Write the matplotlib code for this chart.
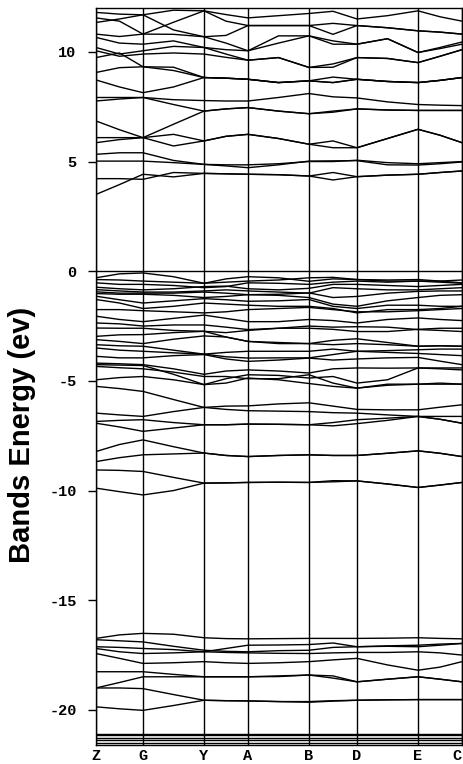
import numpy as np
import matplotlib
matplotlib.use("Agg")
from matplotlib import pyplot as plt

# k-path
kpoint_labels = ["Z", "G", "Y", "A", "B", "D", "E", "C"]
segment_lengths = [0.47, 0.61, 0.44, 0.61, 0.48, 0.61, 0.44]

# band energies (eV), read at every k-point and at the middle of each segment
conduction = [
    [11.80, 11.72, 11.69, 11.90, 11.87, 11.70, 11.55, 11.65, 11.75, 11.85, 11.50, 11.65, 11.87, 11.60, 11.40],
    [11.55, 11.40, 10.81, 11.35, 11.87, 11.40, 11.20, 11.20, 11.20, 11.30, 11.20, 11.10, 10.96, 10.90, 10.81],
    [11.34, 11.50, 11.69, 11.00, 10.69, 10.75, 11.20, 11.20, 11.20, 10.80, 11.20, 11.10, 10.96, 10.90, 10.81],
    [10.81, 10.70, 10.81, 10.80, 10.69, 10.40, 10.05, 10.73, 10.73, 10.50, 10.35, 10.60, 9.97, 10.15, 10.35],
    [10.66, 10.40, 10.35, 10.50, 10.20, 10.10, 10.05, 10.40, 10.73, 10.35, 10.35, 10.60, 9.97, 10.20, 10.45],
    [10.20, 9.90, 10.05, 10.25, 10.20, 9.90, 9.62, 9.74, 9.29, 9.45, 9.74, 9.70, 9.51, 9.80, 10.10],
    [10.05, 9.80, 9.90, 9.95, 9.90, 9.75, 9.62, 9.74, 9.29, 9.30, 9.74, 9.70, 9.51, 9.80, 10.10],
    [9.74, 9.95, 9.32, 9.30, 8.83, 8.80, 8.75, 8.60, 8.68, 8.85, 8.75, 8.65, 8.60, 8.70, 8.83],
    [9.06, 9.28, 9.32, 9.15, 8.83, 8.80, 8.75, 8.60, 8.68, 8.60, 8.75, 8.65, 8.60, 8.70, 8.83],
    [8.72, 8.40, 8.14, 8.40, 8.83, 8.80, 8.75, 8.60, 8.68, 8.60, 8.75, 8.65, 8.60, 8.70, 8.83],
    [7.92, 7.92, 7.92, 7.82, 7.78, 7.76, 7.76, 7.92, 8.10, 7.95, 7.90, 7.72, 7.60, 7.57, 7.55],
    [7.76, 7.85, 7.92, 7.60, 7.30, 7.40, 7.46, 7.30, 7.18, 7.30, 7.40, 7.35, 7.33, 7.33, 7.33],
    [6.85, 6.45, 6.09, 6.70, 7.30, 7.40, 7.46, 7.30, 7.18, 7.25, 7.40, 7.35, 7.33, 7.33, 7.33],
    [6.09, 6.09, 6.09, 6.24, 5.94, 6.15, 6.24, 6.05, 5.79, 5.94, 5.63, 6.05, 6.47, 6.20, 5.86],
    [5.86, 6.00, 6.09, 5.71, 5.94, 6.15, 6.24, 6.05, 5.79, 5.63, 5.63, 6.05, 6.47, 6.20, 5.86],
    [5.33, 5.40, 5.40, 5.05, 4.87, 4.85, 4.85, 4.90, 5.00, 5.00, 5.06, 4.95, 4.90, 4.95, 5.00],
    [5.02, 5.02, 5.02, 4.95, 4.87, 4.80, 4.72, 4.85, 5.02, 5.03, 5.04, 4.85, 4.84, 4.90, 4.98],
    [4.22, 4.22, 4.19, 4.50, 4.46, 4.44, 4.42, 4.40, 4.34, 4.50, 4.31, 4.38, 4.42, 4.50, 4.57],
    [3.50, 3.95, 4.42, 4.30, 4.46, 4.44, 4.42, 4.40, 4.34, 4.16, 4.31, 4.38, 4.42, 4.50, 4.57],
]

valence = [
    [-0.30, -0.12, -0.08, -0.25, -0.55, -0.35, -0.25, -0.30, -0.46, -0.35, -0.38, -0.40, -0.38, -0.45, -0.53],
    [-0.38, -0.40, -0.45, -0.50, -0.55, -0.50, -0.45, -0.40, -0.30, -0.28, -0.38, -0.45, -0.45, -0.50, -0.55],
    [-0.53, -0.60, -0.60, -0.65, -0.75, -0.70, -0.53, -0.55, -0.60, -0.50, -0.45, -0.50, -0.45, -0.45, -0.40],
    [-0.73, -0.80, -0.85, -0.80, -0.70, -0.68, -0.80, -0.85, -0.78, -0.60, -0.60, -0.65, -0.70, -0.65, -0.60],
    [-0.84, -0.90, -0.95, -0.95, -0.90, -0.85, -0.90, -0.95, -1.00, -0.75, -0.80, -0.85, -0.85, -0.80, -0.75],
    [-0.94, -1.00, -1.00, -1.00, -0.95, -1.00, -1.07, -1.05, -0.99, -1.20, -1.15, -1.00, -0.92, -0.90, -0.90],
    [-1.02, -1.05, -1.05, -1.10, -1.20, -1.15, -1.07, -1.10, -1.20, -1.50, -1.60, -1.35, -1.20, -1.10, -1.07],
    [-1.14, -1.30, -1.45, -1.35, -1.25, -1.30, -1.37, -1.35, -1.29, -1.60, -1.70, -1.55, -1.55, -1.60, -1.60],
    [-1.29, -1.45, -1.70, -1.60, -1.45, -1.50, -1.55, -1.60, -1.60, -1.70, -1.90, -1.75, -1.75, -1.70, -1.60],
    [-1.75, -1.75, -1.80, -1.85, -1.90, -1.85, -1.75, -1.70, -1.65, -1.75, -1.85, -1.85, -1.80, -1.75, -1.70],
    [-2.05, -2.20, -2.30, -2.15, -2.00, -2.15, -2.30, -2.30, -2.20, -2.25, -2.36, -2.20, -2.13, -2.20, -2.25],
    [-2.36, -2.40, -2.50, -2.45, -2.45, -2.55, -2.66, -2.60, -2.50, -2.55, -2.53, -2.55, -2.66, -2.70, -2.75],
    [-2.59, -2.60, -2.60, -2.70, -2.74, -2.80, -2.70, -2.60, -2.60, -2.65, -2.75, -2.75, -2.65, -2.60, -2.60],
    [-2.97, -2.90, -2.89, -2.80, -2.74, -3.00, -3.20, -3.25, -3.30, -3.15, -3.08, -3.25, -3.42, -3.40, -3.42],
    [-3.12, -3.20, -3.30, -3.10, -2.95, -3.00, -3.20, -3.30, -3.30, -3.35, -3.30, -3.35, -3.42, -3.40, -3.42],
    [-3.35, -3.40, -3.42, -3.60, -3.78, -3.70, -3.65, -3.65, -3.65, -3.55, -3.65, -3.62, -3.58, -3.55, -3.55],
    [-3.50, -3.60, -3.65, -3.72, -3.78, -3.90, -3.96, -3.95, -3.95, -3.80, -3.65, -3.70, -3.75, -3.80, -3.85],
    [-3.88, -3.95, -3.95, -3.85, -3.80, -4.00, -4.11, -4.05, -3.96, -4.05, -4.00, -3.95, -3.93, -4.10, -4.26],
    [-4.19, -4.22, -4.26, -4.45, -4.70, -4.55, -4.50, -4.55, -4.64, -4.45, -4.41, -4.42, -4.41, -4.41, -4.41],
    [-4.26, -4.28, -4.30, -4.70, -5.17, -4.90, -4.72, -4.75, -4.87, -4.80, -5.10, -4.95, -4.41, -4.45, -4.50],
    [-4.34, -4.40, -4.45, -4.60, -4.80, -4.80, -4.90, -4.90, -4.72, -5.10, -5.33, -5.15, -5.15, -5.10, -5.15],
    [-4.95, -4.85, -4.80, -4.95, -5.17, -5.10, -4.87, -4.95, -5.12, -5.25, -5.33, -5.20, -5.15, -5.15, -5.15],
    [-5.25, -5.35, -5.48, -5.85, -6.21, -6.15, -6.14, -6.05, -6.00, -6.15, -6.30, -6.32, -6.32, -6.20, -6.09],
    [-6.47, -6.55, -6.62, -6.40, -6.21, -6.30, -6.36, -6.38, -6.40, -6.45, -6.47, -6.55, -6.62, -6.62, -6.62],
    [-6.85, -6.80, -6.77, -6.90, -7.00, -7.00, -6.97, -6.98, -7.00, -6.90, -6.77, -6.70, -6.62, -6.75, -6.93],
    [-6.93, -7.10, -7.30, -7.15, -7.00, -7.00, -6.97, -6.98, -7.00, -7.05, -6.95, -6.80, -6.62, -6.75, -6.93],
    [-8.22, -7.90, -7.69, -8.00, -8.29, -8.40, -8.45, -8.40, -8.37, -8.40, -8.40, -8.30, -8.19, -8.30, -8.45],
    [-8.68, -8.50, -8.37, -8.33, -8.29, -8.40, -8.45, -8.40, -8.37, -8.40, -8.40, -8.30, -8.19, -8.30, -8.45],
    [-9.06, -9.08, -9.13, -9.40, -9.66, -9.65, -9.63, -9.62, -9.63, -9.55, -9.56, -9.70, -9.86, -9.75, -9.63],
    [-9.89, -10.05, -10.20, -10.00, -9.66, -9.65, -9.63, -9.62, -9.63, -9.60, -9.56, -9.70, -9.86, -9.75, -9.63],
]

semicore = [
    [-16.74, -16.58, -16.51, -16.55, -16.71, -16.75, -16.76, -16.75, -16.74, -16.74, -16.74, -16.73, -16.71, -16.74, -16.76],
    [-16.80, -16.85, -16.90, -17.10, -17.28, -17.33, -17.35, -17.30, -17.28, -17.15, -17.12, -17.10, -17.12, -17.05, -16.97],
    [-17.12, -17.15, -17.20, -17.25, -17.35, -17.20, -17.05, -17.04, -17.02, -16.95, -17.12, -17.08, -17.05, -17.00, -16.97],
    [-17.20, -17.35, -17.43, -17.40, -17.35, -17.38, -17.40, -17.42, -17.43, -17.40, -17.38, -17.38, -17.35, -17.40, -17.50],
    [-17.43, -17.65, -17.88, -17.85, -17.80, -17.85, -17.88, -17.85, -17.80, -17.72, -17.65, -17.95, -18.19, -18.05, -17.80],
    [-18.26, -18.26, -18.26, -18.38, -18.49, -18.49, -18.49, -18.45, -18.41, -18.55, -18.72, -18.60, -18.49, -18.60, -18.72],
    [-19.00, -18.75, -18.49, -18.49, -18.49, -18.49, -18.49, -18.48, -18.41, -18.45, -18.72, -18.60, -18.49, -18.60, -18.72],
    [-19.00, -19.00, -19.03, -19.30, -19.56, -19.58, -19.59, -19.62, -19.65, -19.60, -19.56, -19.54, -19.53, -19.53, -19.53],
    [-19.86, -19.95, -20.02, -19.80, -19.56, -19.58, -19.59, -19.62, -19.62, -19.58, -19.56, -19.54, -19.53, -19.53, -19.53],
]

core_levels = [-21.08, -21.16, -21.28, -21.39, -21.49]

ytick_values = [-20, -15, -10, -5, 0, 5, 10]

# k positions: nodes and segment midpoints
knodes = np.concatenate([[0.0], np.cumsum(segment_lengths)])
kall = np.empty(2 * len(knodes) - 1)
kall[0::2] = knodes
kall[1::2] = (knodes[:-1] + knodes[1:]) / 2

fig = plt.figure(figsize=(4.64, 7.64), dpi=100)
ax = fig.add_axes([96 / 464, 19 / 764, 366 / 464, 737 / 764])

for band in conduction + valence + semicore:
    ax.plot(kall, band, color="black", lw=1.0)
ax.hlines(core_levels, knodes[0], knodes[-1], color="black", lw=1.0)

# k-point lines and fermi level
for x in knodes:
    ax.axvline(x, color="black", lw=1.0)
ax.axhline(0, color="black", lw=1.0)

ax.set_xlim(knodes[0], knodes[-1])
ax.set_ylim(-21.6, 12)

ax.set_xticks(knodes)
ax.set_xticklabels(kpoint_labels, family="Liberation Mono", fontweight="bold", fontsize=11)
ax.get_xticklabels()[-1].set_horizontalalignment("right")
ax.set_yticks(ytick_values)
ax.set_yticklabels([str(v) for v in ytick_values], family="Liberation Mono",
                   fontweight="bold", fontsize=11)
ax.tick_params(axis="x", length=0, pad=3)
ax.tick_params(axis="y", direction="out", length=6, width=1.0, pad=8)
for s in ax.spines.values():
    s.set_linewidth(1.0)

fig.text(22 / 464, 1 - 435 / 764, "Bands Energy (ev)", rotation=90,
         ha="center", va="center", family="Liberation Sans",
         fontweight="bold", fontsize=21)

fig.savefig("out.png", dpi=100)
